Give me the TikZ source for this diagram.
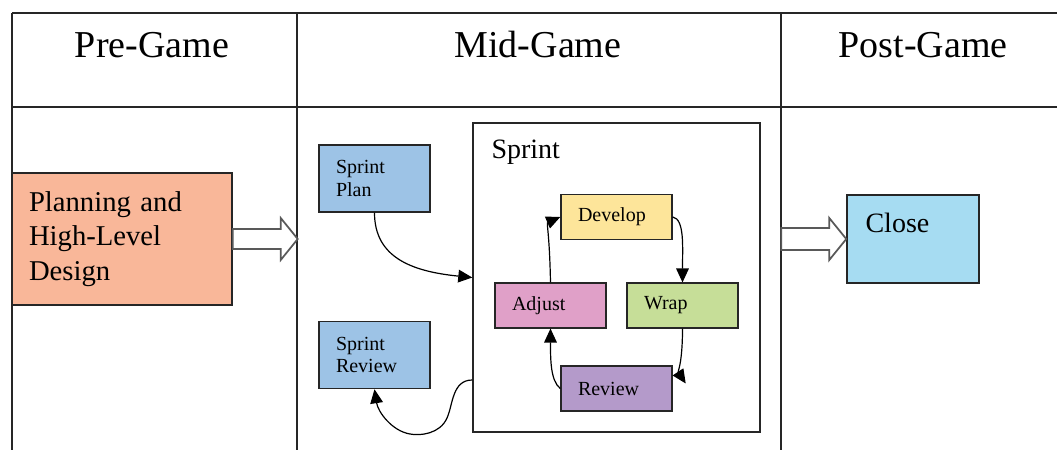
\documentclass[tikz,border=0pt]{standalone}
\usepackage{fontspec}
\setmainfont{Liberation Serif}
\usetikzlibrary{arrows.meta}
\definecolor{cplan}{HTML}{F9B799}
\definecolor{csprint}{HTML}{9DC3E6}
\definecolor{cdev}{HTML}{FDE59A}
\definecolor{cadj}{HTML}{E0A0C8}
\definecolor{cwrap}{HTML}{C6DE98}
\definecolor{crev}{HTML}{B49ACA}
\definecolor{cclose}{HTML}{A6DCF2}
\begin{document}
\begin{tikzpicture}[x=0.75pt,y=-0.75pt,
  rule/.style={line width=1.1pt,draw=black!85},
  boxbase/.style={draw=black!85,line width=1.1pt,rectangle,align=left,inner ysep=0pt},
  bigbox/.style={boxbase,minimum width=165pt,minimum height=99pt,text width=139.5pt,inner xsep=12.75pt,font=\fontsize{21.5}{26}\selectfont},
  sidebox/.style={boxbase,fill=csprint,minimum height=50.25pt,text width=57.75pt,inner xsep=12.75pt,font=\fontsize{15}{17}\selectfont},
  stepbox/.style={boxbase,minimum height=33.5pt,text width=57.75pt,inner xsep=12.75pt,font=\fontsize{15}{17}\selectfont},
  head/.style={anchor=base,inner sep=0pt,font=\fontsize{28.5}{32}\selectfont},
  boxlabel/.style={anchor=base west,inner sep=0pt,font=\fontsize{21}{24}\selectfont},
  arr/.style={line width=0.9pt,-{Triangle[length=10.5pt,width=9.5pt]}},
  hollow/.style={draw=black!65,line width=1.3pt,fill=white,line join=miter}
]
\useasboundingbox (0,0) rectangle (1057,450);
% table grid
\draw[rule] (12,13) -- (1057,13);
\draw[rule] (12,107) -- (1057,107);
\draw[rule] (12,13) -- (12,450);
\draw[rule] (297,13) -- (297,450);
\draw[rule] (781,13) -- (781,450);
% headers
\node[head] (hpre) at (152,57) {Pre-Game};
\node[head] (hmid) at (538,57) {Mid-Game};
\node[head] (hpost) at (923,57) {Post-Game};
% pre-game
\node[bigbox,fill=cplan] (plan) at (122,239) {Planning and\\High-Level\\Design};
\draw[hollow] (plan.east) ++(0,-10) -- ++(48,0) -- ++(0,-11) -- ++(17,21) -- ++(-17,21) -- ++(0,-11) -- ++(-48,0) -- cycle;
% mid-game
\node[sidebox] (splan) at (374.5,178.5) {Sprint\\Plan};
\node[sidebox] (srev) at (374.5,355) {Sprint\\Review};
\node[draw=black!85,line width=1.1pt,minimum width=215.25pt,minimum height=231.75pt,inner sep=0pt,
  label={[boxlabel,xshift=14.25pt,yshift=-27pt]north west:Sprint}] (sprint) at (616.5,277.5) {};
\node[stepbox,fill=cdev] (dev) at (616.5,217) {Develop};
\node[stepbox,fill=cadj] (adj) at (550.5,305.5) {Adjust};
\node[stepbox,fill=cwrap] (wrap) at (682.5,305.5) {Wrap};
\node[stepbox,fill=crev] (rev) at (616.5,388.5) {Review};
\draw[arr] (splan.south) .. controls +(0,45) and +(-60,-6) .. (sprint.west);
\draw[arr] (sprint.west |- 0,380) .. controls (452,380) and (453,405) .. (447,418)
  .. controls (440,434) and (420,436) .. (410,434)
  .. controls (392,431) and (378,412) .. (srev.south);
\draw[arr] (adj.north) .. controls +(-1,-50) and +(-14,6) .. (dev.west);
\draw[arr] (dev.east) .. controls +(12,2) and +(0,-35) .. (wrap.north);
\draw[arr] (wrap.south) .. controls +(0,35) and +(-8,-12) .. ([shift={(13,-5)}]rev.east);
\draw[arr] (rev.west) .. controls +(-10,-8) and +(0,30) .. (adj.south);
% post-game
\node[draw=black!85,line width=1.1pt,fill=cclose,minimum width=99pt,minimum height=66pt,inner sep=0pt,
  label={[boxlabel,xshift=14.25pt,yshift=-28.5pt]north west:Close}] (close) at (913,239) {};
\draw[hollow] (close.west) -- ++(-17,-21) -- ++(0,10) -- ++(-48,0) -- ++(0,22) -- ++(48,0) -- ++(0,10) -- cycle;
\end{tikzpicture}
\end{document}
